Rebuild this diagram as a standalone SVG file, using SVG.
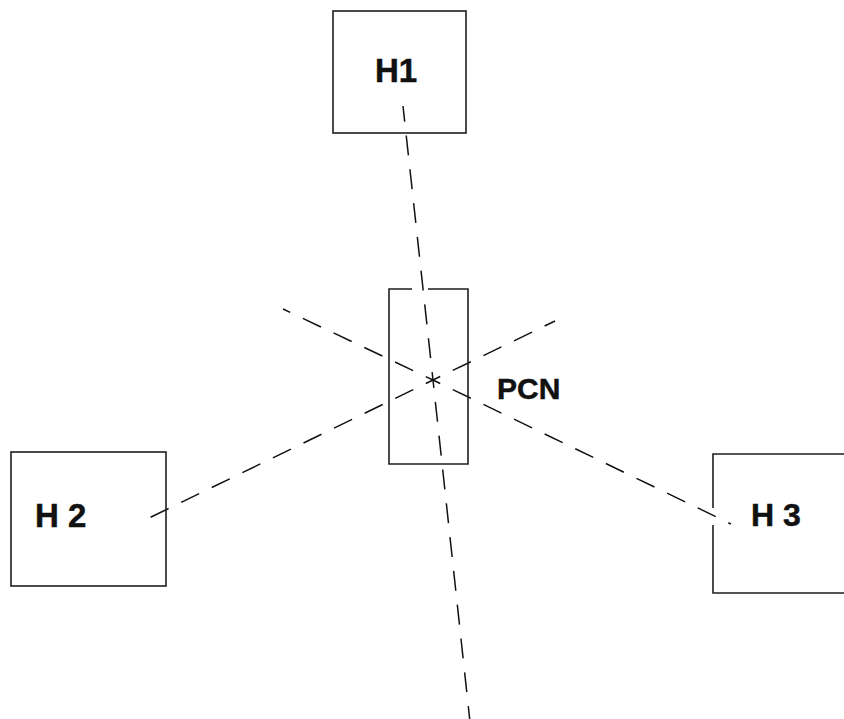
<svg xmlns="http://www.w3.org/2000/svg" width="844" height="719" viewBox="0 0 844 719">
  <style>
    .box { fill: none; stroke: #1e1e1e; stroke-width: 1.6; }
    .ray { fill: none; stroke: #111; stroke-width: 1.5;
           stroke-dasharray: 8 14 20 14 20 14 20 14 20 14 20 14 20 14 20 14 20 14 20 14 20 14 20 14 20 14 20 14 20 14 20 14 20 14; }
    .label { font-family: "Liberation Sans", Arial, sans-serif; font-weight: bold; fill: #111;
             stroke: #111; stroke-width: 0.5; }
  </style>
  <rect width="844" height="719" fill="#ffffff"/>

  <!-- dashed lines, each drawn outward from the crossing point -->
  <g id="connectors">
    <path class="ray" d="M433,380 L403,106"/>
    <path class="ray" d="M433,380 L470,722"/>
    <path class="ray" d="M433,380 L145,520"/>
    <path class="ray" d="M433,380 L555,321"/>
    <path class="ray" d="M433,380 L283,309"/>
    <path class="ray" d="M433,380 L731,524"/>
  </g>

  <g id="H1">
    <rect class="box" x="333" y="11" width="133" height="122"/>
    <text class="label" x="375" y="82" font-size="33">H1</text>
  </g>

  <g id="PCN">
    <path class="box" d="M412,289 H389 V464 H468 V289 H428"/>
    <text class="label" x="497" y="399" font-size="30">PCN</text>
  </g>

  <g id="H2">
    <rect class="box" x="11" y="452" width="155" height="134"/>
    <text class="label" x="35" y="527" font-size="33">H 2</text>
  </g>

  <g id="H3">
    <path class="box" d="M713,508 V454 H850 M713,525 V593 H850"/>
    <text class="label" x="751" y="526" font-size="32">H 3</text>
  </g>
</svg>
